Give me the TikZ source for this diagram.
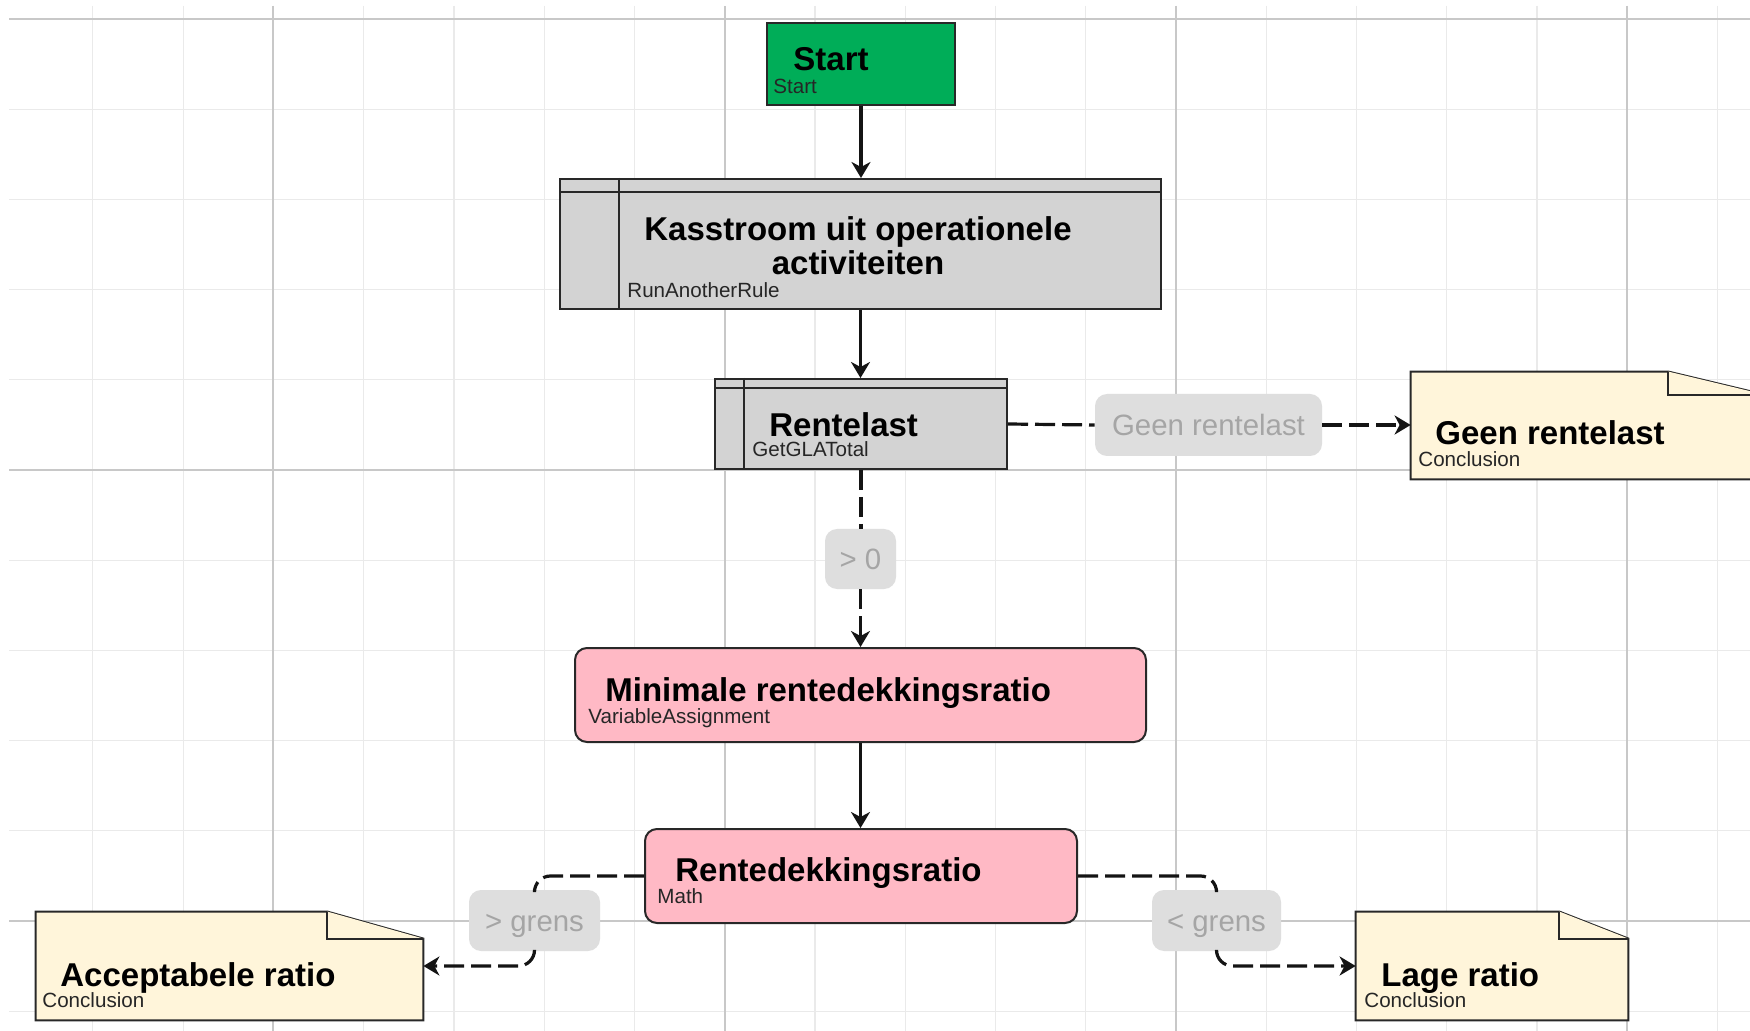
\documentclass[tikz,border=0pt]{standalone}
\usepackage{fontspec}
\setmainfont{Liberation Sans}
\usetikzlibrary{arrows.meta,calc,fit}
\definecolor{startgreen}{RGB}{0,173,88}
\definecolor{subgray}{RGB}{211,211,211}
\definecolor{pinkfill}{RGB}{255,185,197}
\definecolor{notefill}{RGB}{255,245,218}
\definecolor{lblfill}{RGB}{222,222,222}
\definecolor{lbltext}{RGB}{165,165,165}
\definecolor{edgecol}{RGB}{40,40,40}
\definecolor{gridminor}{RGB}{234,234,234}
\definecolor{gridmajor}{RGB}{200,200,200}
\tikzset{
  gminor/.style={draw=gridminor, line width=0.6pt},
  gmajor/.style={draw=gridmajor, line width=1pt},
  boxbase/.style={inner sep=0pt, draw=edgecol, line width=1pt},
  startbox/.style={boxbase, fill=startgreen},
  subbox/.style={boxbase, fill=subgray},
  pinkbox/.style={boxbase, fill=pinkfill, rounded corners=6pt},
  noteframe/.style={inner sep=0pt},
  notestyle/.style={draw=edgecol, line width=1pt, fill=notefill, line join=miter},
  lbl/.style={inner sep=0pt, fill=lblfill, rounded corners=6pt, text=lbltext,
    font=\fontsize{14.7}{17}\selectfont, text height=10.5pt, text depth=0pt, anchor=center},
  ttl/.style={anchor=base west, inner sep=0pt, font=\fontsize{16.5}{19}\selectfont\bfseries, text=black},
  ttlc/.style={anchor=base, inner sep=0pt, font=\fontsize{16.5}{19}\selectfont\bfseries, text=black},
  sub/.style={anchor=base west, inner sep=0pt, font=\fontsize{10.3}{12}\selectfont, text=black!85},
  conn/.style={draw=black!92, line width=1.6pt},
  tip/.style={-{Stealth[length=8pt,width=9.5pt,inset=2.5pt]}},
  solidarrow/.style={conn, tip},
  dashline/.style={conn, dash pattern=on 10pt off 3.5pt},
  dasharrow/.style={dashline, tip},
}
\begin{document}
\begin{tikzpicture}[x=0.5pt,y=-0.5pt]
\useasboundingbox (0,0) rectangle (1750,1031);
\clip (0,0) rectangle (1750,1031);
\fill[white] (0,0) rectangle (1750,1031);
% grid
\foreach \k in {-2,...,16} { \draw[gminor] ({273.4+90.26*\k},6) -- ({273.4+90.26*\k},1031); }
\foreach \k in {0,...,11} { \draw[gminor] (9,{19+90.2*\k}) -- (1750,{19+90.2*\k}); }
\foreach \k in {0,5,10,15} { \draw[gmajor] ({273.4+90.26*\k},6) -- ({273.4+90.26*\k},1031); }
\foreach \k in {0,5,10} { \draw[gmajor] (9,{19+90.2*\k}) -- (1750,{19+90.2*\k}); }

% Start
\node[startbox, fit={(767,23) (955,105)}] (start) {};
\node[ttl] (startT) at (793,71) {Start};
\node[sub] (startS) at (773,94) {Start};

% Kasstroom
\node[subbox, fit={(560,179) (1161,309)}] (kas) {};
\draw[edgecol, line width=1pt] ($(kas.north west)+(0,14)$) -- ($(kas.north east)+(0,14)$);
\draw[edgecol, line width=1pt] ($(kas.north west)+(60,0)$) -- ($(kas.south west)+(60,0)$);
\node[ttlc] (kasT1) at (858,241) {Kasstroom uit operationele};
\node[ttlc] (kasT2) at (858,275) {activiteiten};
\node[sub] (kasS) at (627,298) {RunAnotherRule};

% Rentelast
\node[subbox, fit={(715,379) (1007,469)}] (rent) {};
\draw[edgecol, line width=1pt] ($(rent.north west)+(0,10)$) -- ($(rent.north east)+(0,10)$);
\draw[edgecol, line width=1pt] ($(rent.north west)+(30,0)$) -- ($(rent.south west)+(30,0)$);
\node[ttl] (rentT) at (769,437) {Rentelast};
\node[sub] (rentS) at (752,457) {GetGLATotal};

% Geen rentelast note
\node[noteframe, fit={(1411,372) (1764,479)}] (geen) {};
\filldraw[notestyle] (geen.north west) -- ($(geen.north east)+(-96,0)$) -- ($(geen.north east)+(0,23)$) -- (geen.south east) -- (geen.south west) -- cycle;
\draw[notestyle] ($(geen.north east)+(-96,0)$) -- ($(geen.north east)+(-96,23)$) -- ($(geen.north east)+(0,23)$);
\node[ttl] (geenT) at (1435,445) {Geen rentelast};
\node[sub] (geenS) at (1418,467) {Conclusion};

% Minimale
\node[pinkbox, fit={(575,648) (1146,742)}] (mini) {};
\node[ttl] (miniT) at (605,701) {Minimale rentedekkingsratio};
\node[sub] (miniS) at (588,723) {VariableAssignment};

% Rentedekkingsratio
\node[pinkbox, fit={(645,829) (1077,923)}] (rd) {};
\node[ttl] (rdT) at (675,881) {Rentedekkingsratio};
\node[sub] (rdS) at (657,903) {Math};

% Acceptabele ratio note
\node[noteframe, fit={(36,912) (423,1020)}] (acc) {};
\filldraw[notestyle] (acc.north west) -- ($(acc.north east)+(-96,0)$) -- ($(acc.north east)+(0,27)$) -- (acc.south east) -- (acc.south west) -- cycle;
\draw[notestyle] ($(acc.north east)+(-96,0)$) -- ($(acc.north east)+(-96,27)$) -- ($(acc.north east)+(0,27)$);
\node[ttl] (accT) at (60,986) {Acceptabele ratio};
\node[sub] (accS) at (42,1007) {Conclusion};

% Lage ratio note
\node[noteframe, fit={(1356,912) (1628,1020)}] (lage) {};
\filldraw[notestyle] (lage.north west) -- ($(lage.north east)+(-69,0)$) -- ($(lage.north east)+(0,27)$) -- (lage.south east) -- (lage.south west) -- cycle;
\draw[notestyle] ($(lage.north east)+(-69,0)$) -- ($(lage.north east)+(-69,27)$) -- ($(lage.north east)+(0,27)$);
\node[ttl] (lageT) at (1381,986) {Lage ratio};
\node[sub] (lageS) at (1364,1007) {Conclusion};

% labels
\node[lbl, minimum width=113.5pt, minimum height=31pt] (lgeen) at (1208.5,425) {Geen rentelast};
\node[lbl, minimum width=35.5pt, minimum height=30pt] (lnul) at (860.5,559) {> 0};
\node[lbl, minimum width=65.5pt, minimum height=30.5pt] (lgt) at (534.5,920.5) {> grens};
\node[lbl, minimum width=64.5pt, minimum height=30.5pt] (llt) at (1216.5,920.5) {< grens};

% connectors
\draw[solidarrow] (start.south) -- (start.south |- kas.north);
\draw[solidarrow] (kas.south) -- (kas.south |- rent.north);
\draw[dashline] (rent.east) -- (lgeen.west);
\draw[dasharrow] (lgeen.east) -- (lgeen.east -| geen.west);
\draw[dashline] (rent.south) -- (rent.south |- lnul.north);
\draw[dasharrow] (lnul.south) -- (lnul.south |- mini.north);
\draw[solidarrow] (mini.south) -- (mini.south |- rd.north);
\draw[dashline, rounded corners=8pt] (rd.west) -| (lgt.north);
\draw[dasharrow, rounded corners=8pt] (lgt.south) |- (acc.east);
\draw[dashline, rounded corners=8pt] (rd.east) -| (llt.north);
\draw[dasharrow, rounded corners=8pt] (llt.south) |- (lage.west);
\end{tikzpicture}
\end{document}
